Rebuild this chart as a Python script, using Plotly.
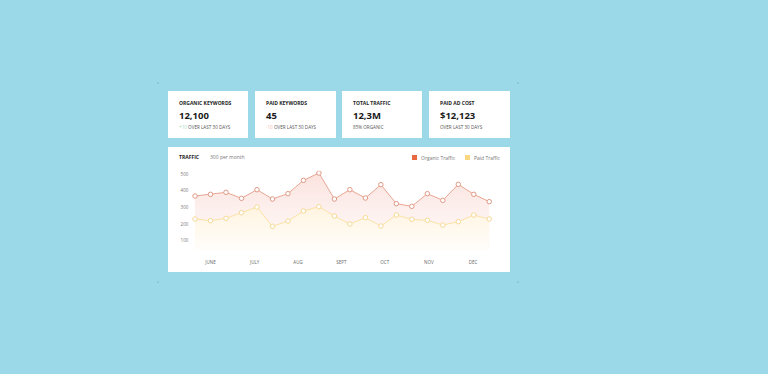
import plotly.graph_objects as go

W, H = 768, 374

# ---- data ----
organic = [368, 378, 390, 354, 406, 350, 382, 462, 506, 350,
           406, 356, 436, 322, 306, 382, 342, 438, 378, 334]
paid = [230, 220, 234, 268, 302, 186, 218, 278, 304, 248,
        200, 238, 188, 254, 228, 222, 194, 214, 254, 230]
months = ["JUNE", "JULY", "AUG", "SEPT", "OCT", "NOV", "DEC"]
month_pos = [1.0, 3.85, 6.65, 9.45, 12.25, 15.1, 17.95]
y_ticks = [100, 200, 300, 400, 500]

cards = [
    ("ORGANIC KEYWORDS", "12,100", "<span style='color:#a8e0bd'>+10</span> OVER LAST 30 DAYS"),
    ("PAID KEYWORDS", "45", "<span style='color:#f3b9b6'>-10</span> OVER LAST 30 DAYS"),
    ("TOTAL TRAFFIC", "12,3M", "85% ORGANIC"),
    ("PAID AD COST", "$12,123", "OVER LAST 30 DAYS"),
]

x = list(range(len(organic)))


def px(v):
    return v / W


def py(v):
    return 1 - v / H


FONT = "Open Sans"

fig = go.Figure()

fig.add_trace(go.Scatter(
    x=x, y=organic, mode="lines+markers", fill="tozeroy",
    line=dict(color="#e9a592", width=1),
    marker=dict(size=4.5, color="white", line=dict(color="#e09a86", width=1)),
    fillgradient=dict(type="vertical",
                      colorscale=[[0, "rgba(253,242,240,0.3)"], [1, "rgba(251,226,221,1)"]]),
    showlegend=False, hoverinfo="skip"))

fig.add_trace(go.Scatter(
    x=x, y=paid, mode="lines+markers", fill="tozeroy",
    line=dict(color="#fbe1a6", width=1),
    marker=dict(size=4.5, color="white", line=dict(color="#f7d994", width=1)),
    fillgradient=dict(type="vertical",
                      colorscale=[[0, "rgba(255,255,255,1)"], [1, "rgba(255,244,224,1)"]]),
    showlegend=False, hoverinfo="skip"))

shapes = []
annotations = []

# card boxes
card_x = [(168, 248), (255, 336), (342, 422), (429, 510)]
for (x0, x1), (title, val, sub) in zip(card_x, cards):
    shapes.append(dict(type="rect", xref="paper", yref="paper",
                       x0=px(x0), x1=px(x1), y0=py(138), y1=py(91),
                       fillcolor="white", line=dict(width=0), layer="below"))
    tx = px(x0 + 9)
    annotations.append(dict(x=tx, y=py(103), xref="paper", yref="paper", xanchor="left",
                            yanchor="middle", showarrow=False,
                            text="<b>" + title + "</b>",
                            font=dict(family=FONT, size=5, color="#222")))
    annotations.append(dict(x=tx, y=py(115), xref="paper", yref="paper", xanchor="left",
                            yanchor="middle", showarrow=False,
                            text="<b>" + val + "</b>",
                            font=dict(family=FONT, size=9.5, color="#1a1a1a")))
    annotations.append(dict(x=tx, y=py(127), xref="paper", yref="paper", xanchor="left",
                            yanchor="middle", showarrow=False, text=sub,
                            font=dict(family=FONT, size=4.6, color="#555")))

# chart card
shapes.append(dict(type="rect", xref="paper", yref="paper",
                   x0=px(168), x1=px(510), y0=py(272), y1=py(147),
                   fillcolor="white", line=dict(width=0), layer="below"))
annotations.append(dict(x=px(177), y=py(157), xref="paper", yref="paper", xanchor="left",
                        yanchor="middle", showarrow=False, text="<b>TRAFFIC</b>",
                        font=dict(family=FONT, size=5, color="#222")))
annotations.append(dict(x=px(208), y=py(157), xref="paper", yref="paper", xanchor="left",
                        yanchor="middle", showarrow=False, text="300 per month",
                        font=dict(family=FONT, size=5, color="#777")))

# legend
for sx, color, label in [(412, "#e8683f", "Organic Traffic"), (465, "#f9d77f", "Paid Traffic")]:
    shapes.append(dict(type="rect", xref="paper", yref="paper",
                       x0=px(sx), x1=px(sx + 5), y0=py(160), y1=py(155),
                       fillcolor=color, line=dict(width=0)))
    annotations.append(dict(x=px(sx + 7), y=py(157.5), xref="paper", yref="paper",
                            xanchor="left", yanchor="middle", showarrow=False, text=label,
                            font=dict(family=FONT, size=5, color="#777")))

# crop marks
for cx, cy in [(158, 83), (518, 83), (158, 282), (518, 282)]:
    shapes.append(dict(type="circle", xref="paper", yref="paper",
                       x0=px(cx - 0.6), x1=px(cx + 0.6), y0=py(cy + 0.6), y1=py(cy - 0.6),
                       fillcolor="#6f8f98", line=dict(width=0)))

fig.update_layout(
    width=W, height=H,
    margin=dict(l=0, r=0, t=0, b=0),
    paper_bgcolor="#9bd8e8",
    plot_bgcolor="rgba(0,0,0,0)",
    shapes=shapes,
    annotations=annotations,
    xaxis=dict(domain=[px(187.3), px(497)], range=[-0.5, 19.5],
               tickvals=month_pos, ticktext=months, showgrid=False, zeroline=False,
               showline=False, ticks="", ticklabelstandoff=8,
               tickfont=dict(family=FONT, size=4.5, color="#666")),
    yaxis=dict(domain=[py(250), py(170.67)], range=[44, 520],
               tickvals=y_ticks, showgrid=False, zeroline=False, showline=False,
               ticks="", ticklabelstandoff=-2,
               tickfont=dict(family=FONT, size=4.5, color="#777")),
)

fig.write_html(
    "out.html",
    config={"displayModeBar": False},
    post_script="document.body.style.margin='0';document.body.style.overflow='hidden';"
                "document.body.style.background='#9bd8e8';",
)
